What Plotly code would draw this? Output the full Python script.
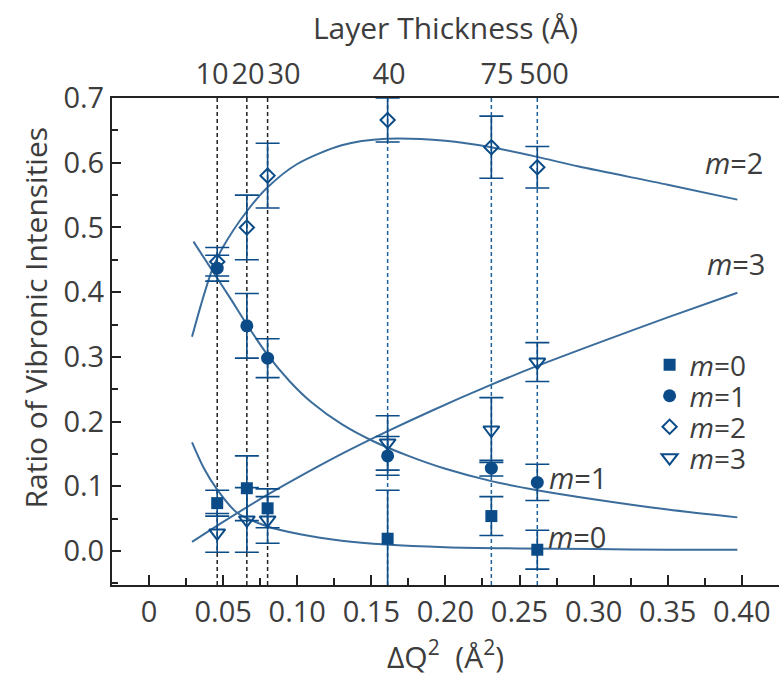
import plotly.graph_objects as go

# ---------------- data ----------------
layer_labels = ["10", "20", "30", "40", "75", "500"]          # layer thickness (Å)
layer_dq = [0.046, 0.066, 0.080, 0.161, 0.231, 0.262]          # ΔQ² of each layer

m0_y = [0.074, 0.097, 0.066, 0.019, 0.054, 0.002]
m0_err = [0.020, 0.050, 0.030, 0.075, 0.030, 0.030]
m1_y = [0.437, 0.348, 0.298, 0.147, 0.128, 0.106]
m1_err = [0.020, 0.050, 0.030, 0.030, 0.012, 0.028]
m2_y = [0.447, 0.500, 0.580, 0.666, 0.624, 0.593]
m2_err = [0.022, 0.050, 0.050, 0.034, 0.048, 0.032]
m3_y = [0.028, 0.048, 0.048, 0.167, 0.187, 0.292]
m3_err = [0.030, 0.050, 0.036, 0.042, 0.050, 0.030]

fit_m0_x = [0.029, 0.037, 0.046, 0.059, 0.080, 0.102, 0.130, 0.160, 0.200, 0.250, 0.300, 0.350, 0.397]
fit_m0_y = [0.168, 0.128, 0.095, 0.060, 0.038, 0.026, 0.016, 0.010, 0.006, 0.004, 0.003, 0.002, 0.002]
fit_m1_x = [0.030, 0.0425, 0.055, 0.066, 0.080, 0.095, 0.110, 0.130, 0.151, 0.175, 0.200, 0.231, 0.262, 0.300, 0.350, 0.397]
fit_m1_y = [0.478, 0.434, 0.390, 0.350, 0.303, 0.262, 0.229, 0.196, 0.170, 0.147, 0.127, 0.108, 0.094, 0.080, 0.064, 0.052]
fit_m2_x = [0.029, 0.035, 0.0425, 0.050, 0.066, 0.080, 0.100, 0.130, 0.160, 0.200, 0.231, 0.262, 0.290, 0.350, 0.397]
fit_m2_y = [0.331, 0.380, 0.434, 0.470, 0.525, 0.562, 0.598, 0.627, 0.637, 0.634, 0.624, 0.609, 0.594, 0.566, 0.543]
fit_m3_x = [0.029, 0.050, 0.080, 0.100, 0.130, 0.160, 0.190, 0.231, 0.262, 0.300, 0.350, 0.397]
fit_m3_y = [0.014, 0.045, 0.087, 0.113, 0.150, 0.184, 0.216, 0.257, 0.286, 0.319, 0.361, 0.399]

x_ticks = [0, 0.05, 0.10, 0.15, 0.20, 0.25, 0.30, 0.35, 0.40]
x_ticktext = ["0", "0.05", "0.10", "0.15", "0.20", "0.25", "0.30", "0.35", "0.40"]
y_ticks = [0.0, 0.1, 0.2, 0.3, 0.4, 0.5, 0.6, 0.7]

# ---------------- style ----------------
FONT = "Open Sans"
FS = 29
FT = 30
TXT = "#3d3d3d"
MK = "#0b4c88"
CURVE = "#3b6d9c"

# label positions on the top axis (offset so labels don't collide)
top_label_pos = [0.0425, 0.0668, 0.0911, 0.1619, 0.2348, 0.2665]
# legend row centres (paper fraction)
legend_rows = [0.4517, 0.388, 0.3244, 0.2608]

fig = go.Figure()

for fx, fy in [(fit_m0_x, fit_m0_y), (fit_m1_x, fit_m1_y), (fit_m2_x, fit_m2_y), (fit_m3_x, fit_m3_y)]:
    fig.add_trace(go.Scatter(x=fx, y=fy, mode="lines", line=dict(color=CURVE, width=2, shape="spline", smoothing=0.8),
                             showlegend=False, hoverinfo="skip"))

series = [
    ("<i>m</i>=0", m0_y, m0_err, dict(symbol="square", size=12, color=MK)),
    ("<i>m</i>=1", m1_y, m1_err, dict(symbol="circle", size=13, color=MK)),
    ("<i>m</i>=2", m2_y, m2_err, dict(symbol="diamond-open", size=11, color=MK, line=dict(width=2, color=MK))),
    ("<i>m</i>=3", m3_y, m3_err, dict(symbol="triangle-down-open", size=14, color=MK, line=dict(width=2, color=MK))),
]
legend_ids = ["legend", "legend2", "legend3", "legend4"]
for (name, ys, errs, mk), lid in zip(series, legend_ids):
    fig.add_trace(go.Scatter(x=layer_dq, y=ys, mode="markers", name=name, marker=mk, legend=lid,
                             error_y=dict(type="data", array=errs, visible=True, color=MK, thickness=1.6, width=12)))

# invisible trace to activate top axis
fig.add_trace(go.Scatter(x=top_label_pos, y=[0.7] * len(top_label_pos), xaxis="x2", mode="markers",
                         marker=dict(opacity=0), showlegend=False, hoverinfo="skip"))

# dashed vertical lines at each layer thickness
for i, xv in enumerate(layer_dq):
    col = "#222222" if i < 3 else "#1d5f98"
    fig.add_shape(type="line", xref="x", yref="paper", x0=xv, x1=xv, y0=0, y1=1,
                  line=dict(color=col, width=1.5, dash="4px,3px"), layer="below")

annot = [
    ("<i>m</i>=2", 0.395, 0.600),
    ("<i>m</i>=3", 0.396, 0.445),
    ("<i>m</i>=1", 0.2895, 0.113),
    ("<i>m</i>=0", 0.289, 0.022),
]
for t, ax_, ay_ in annot:
    fig.add_annotation(x=ax_, y=ay_, xref="x", yref="y", text=t, showarrow=False,
                       font=dict(family=FONT, size=FS, color=TXT))

fig.add_annotation(x=-0.115, y=0.548, xref="paper", yref="paper", xanchor="center", yanchor="middle",
                   text="Ratio of Vibronic Intensities",
                   textangle=-90, showarrow=False, font=dict(family=FONT, size=FT, color=TXT))

legend_common = dict(x=0.806, xanchor="left", yanchor="middle", bgcolor="rgba(0,0,0,0)",
                     font=dict(family=FONT, size=28, color=TXT), itemwidth=30)

fig.update_layout(
    width=779, height=677,
    margin=dict(l=112, r=0, t=98, b=92),
    paper_bgcolor="white", plot_bgcolor="white",
    font=dict(family=FONT, size=FS, color=TXT),
    xaxis=dict(range=[-0.025, 0.4251], tickvals=x_ticks, ticktext=x_ticktext, ticks="inside", ticklen=10,
               tickwidth=1.5, tickcolor="#222", showline=True, linecolor="#222", linewidth=2, mirror=True,
               showgrid=False, zeroline=False,
               minor=dict(dtick=0.025, ticks="inside", ticklen=7, tickwidth=1.5, tickcolor="#222"),
               title=dict(text="ΔQ<sup>2</sup>  (Å<sup>2</sup>)", font=dict(size=FT), standoff=18)),
    xaxis2=dict(range=[-0.025, 0.4251], overlaying="x", side="top", tickvals=top_label_pos,
                ticktext=layer_labels, ticks="outside", ticklen=1, tickcolor="rgba(0,0,0,0)",
                showline=False, showgrid=False, zeroline=False,
                title=dict(text="Layer Thickness (Å)", font=dict(size=FT), standoff=4)),
    yaxis=dict(range=[-0.0525, 0.7], tickvals=y_ticks, tickformat=".1f", ticks="inside", ticklen=9,
               tickwidth=1.5, tickcolor="#222", showline=True, linecolor="#222", linewidth=2,
               showgrid=False, zeroline=False,
               minor=dict(dtick=0.05, ticks="inside", ticklen=6, tickwidth=1.5, tickcolor="#222")),
    legend=dict(y=legend_rows[0], **legend_common),
    legend2=dict(y=legend_rows[1], **legend_common),
    legend3=dict(y=legend_rows[2], **legend_common),
    legend4=dict(y=legend_rows[3], **legend_common),
)

fig.write_html("out.html")
